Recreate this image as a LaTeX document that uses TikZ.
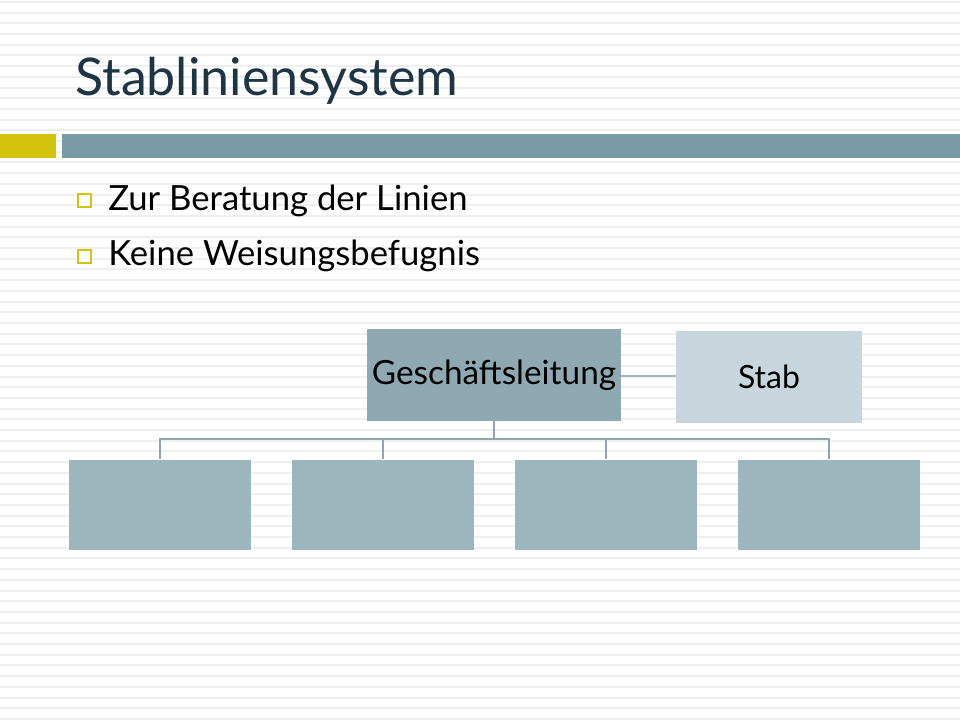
\documentclass[tikz,border=0pt]{standalone}
\usepackage{fontspec}
\setmainfont{Lato}
\definecolor{stripe}{HTML}{EFEFEF}
\definecolor{titlecol}{HTML}{1E3543}
\definecolor{yellowbar}{HTML}{D2C30E}
\definecolor{bluebar}{HTML}{7A9BA6}
\definecolor{glfill}{HTML}{8FA9B2}
\definecolor{boxfill}{HTML}{9DB5BC}
\definecolor{stabfill}{HTML}{C7D6DC}
\definecolor{linecol}{HTML}{8EA5AE}
\begin{document}
\begin{tikzpicture}[x=0.75pt,y=-0.75pt,
  orgbox/.style={draw=none,inner sep=0pt,minimum width=182*0.75pt,minimum height=90*0.75pt,fill=boxfill},
  conn/.style={draw=linecol,line width=1.5pt},
  bulletbox/.style={draw=yellowbar,line width=1.2pt,fill=white,inner sep=0pt,minimum size=10pt},
  bullettext/.style={anchor=base west,inner sep=0pt,text=black,font=\fontsize{26}{30}\selectfont}]
\useasboundingbox (0,0) rectangle (960,720);
\fill[white] (0,0) rectangle (960,720);
\foreach \i in {0,...,67} \fill[stripe] (0,{1+\i*10.7}) rectangle (960,{3+\i*10.7});
% title
\node[anchor=base west,inner sep=0pt,text=titlecol,font=\fontsize{39}{47}\selectfont] (title) at (75,96) {Stabliniensystem};
% bars
\fill[yellowbar] (0,134) rectangle (56,158);
\fill[bluebar] (62,134) rectangle (960,158);
% bullets
\node[bulletbox] (bu1) at (84.5,200.5) {};
\node[bullettext] (t1) at (108,211) {Zur Beratung der Linien};
\node[bulletbox] (bu2) at (84.5,256.5) {};
\node[bullettext] (t2) at (108,266) {Keine Weisungsbefugnis};
% org chart
\node[orgbox,fill=glfill,minimum width=254*0.75pt,minimum height=92*0.75pt,font=\fontsize{25}{29}\selectfont] (gl) at (494,375) {Geschäftsleitung};
\node[orgbox,fill=stabfill,minimum width=186*0.75pt,minimum height=92*0.75pt,font=\fontsize{24}{28}\selectfont] (stab) at (769,377) {Stab};
\node[orgbox] (b1) at (160,504.5) {};
\node[orgbox] (b2) at (383,504.5) {};
\node[orgbox] (b3) at (606,504.5) {};
\node[orgbox] (b4) at (829,504.5) {};
\coordinate (bus) at (494,439);
\draw[conn,draw=linecol!80] (gl.east |- 0,376) -- (stab.west |- 0,376);
\draw[conn] (gl.south) -- (bus);
\draw[conn] (bus) -| (b1.north);
\draw[conn] (bus) -| (b2.north);
\draw[conn] (bus) -| (b3.north);
\draw[conn] (bus) -| (b4.north);
\end{tikzpicture}
\end{document}
